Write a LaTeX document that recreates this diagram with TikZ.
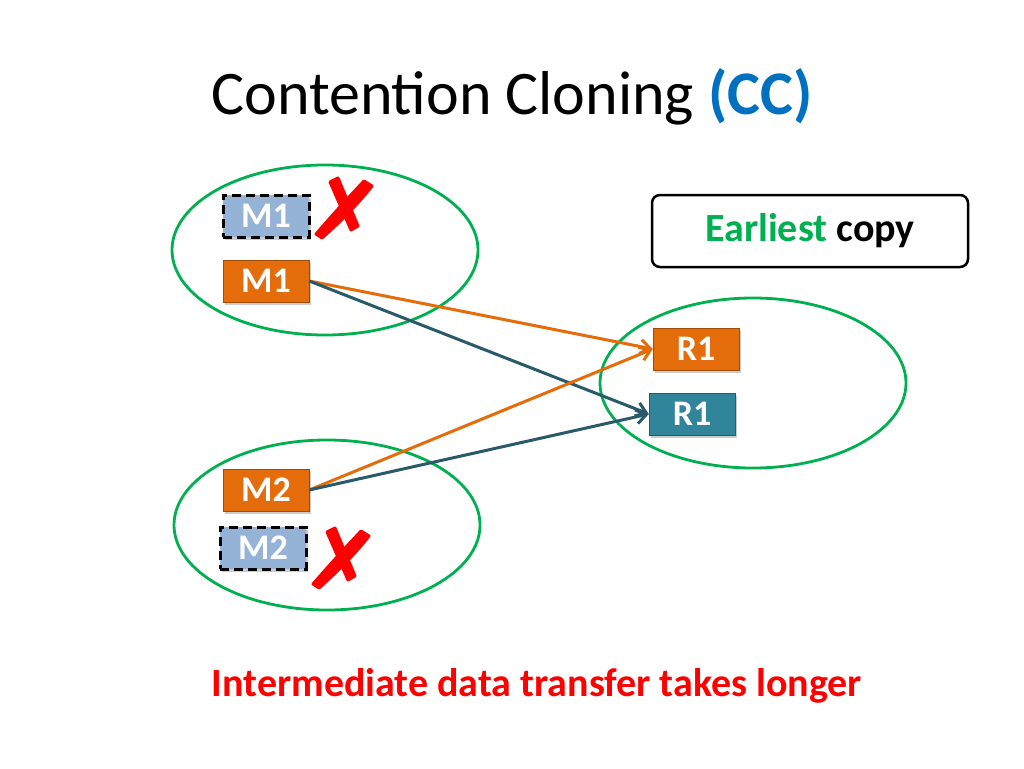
\documentclass[tikz,border=0pt]{standalone}
\usepackage{fontspec}
\setmainfont{Carlito}
\usetikzlibrary{arrows.meta,shadows}
\definecolor{grn}{RGB}{0,176,80}
\definecolor{org}{RGB}{228,108,10}
\definecolor{lblue}{RGB}{149,179,215}
\definecolor{teal2}{RGB}{49,133,155}
\definecolor{dteal}{RGB}{40,90,105}
\definecolor{ccblue}{RGB}{0,112,192}
\begin{document}
\begin{tikzpicture}[x=1pt,y=-1pt,
 ell/.style={draw=grn,line width=2.8pt},
 bx/.style={minimum width=86pt,minimum height=42pt,inner sep=0pt,text=white,font=\fontsize{36}{36}\selectfont\bfseries,drop shadow={shadow xshift=2pt,shadow yshift=-3pt,opacity=0.4}},
 ob/.style={bx,fill=org,draw=org!70!black},
 db/.style={bx,fill=lblue,draw=black,dash pattern=on 9pt off 5pt,line width=3pt},
 tb/.style={bx,fill=teal2,draw=teal2!70!black},
 oa/.style={draw=org,line width=3pt,-{Straight Barb[length=10pt,width=14pt]}},
 ta/.style={draw=dteal,line width=3pt,-{Straight Barb[length=10pt,width=14pt]}},
 xm/.style={fill=red,line join=round,draw=red,line width=3pt}]
\useasboundingbox (0,0) rectangle (1024,768);
\node (title) at (512,97) {\fontsize{62}{62}\selectfont Contention Cloning \textcolor{ccblue}{\bfseries(CC)}};
\draw[ell] (325,250) ellipse [x radius=153,y radius=85];
\draw[ell] (327,525) ellipse [x radius=153,y radius=85];
\draw[ell] (753,383) ellipse [x radius=153,y radius=85];
\node[db] (m1d) at (266,216) {M1};
\node[ob] (m1) at (266,281) {M1};
\node[ob] (m2) at (266,490) {M2};
\node[db] (m2d) at (263,548) {M2};
\node[ob] (r1o) at (696,349) {R1};
\node[tb] (r1t) at (692,414) {R1};
\foreach \dx/\dy in {0/0,-3/350}{
\begin{scope}[shift={(\dx,\dy)}]
\path[xm] (316,234) .. controls (335,212) and (350,196) .. (364,181) -- (372,186) .. controls (358,204) and (340,222) .. (322,238) -- cycle;
\path[xm] (330,182) -- (338,178) -- (358,226) -- (351,230) -- cycle;
\end{scope}}
\node[draw=black,line width=2.5pt,rounded corners=8pt,minimum width=316pt,minimum height=72pt,font=\fontsize{40}{40}\selectfont\bfseries] (ec) at (810,231) {\textcolor{grn}{Earliest} copy};
\draw[oa] (m1.east) -- (r1o.west);
\draw[ta] (m1.east) -- (r1t.west);
\draw[oa] (m2.east) -- (r1o.west);
\draw[ta] (m2.east) -- (r1t.west);
\node[text=red,font=\fontsize{40}{40}\selectfont\bfseries] (bt) at (537,686) {Intermediate data transfer takes longer};
\end{tikzpicture}
\end{document}
